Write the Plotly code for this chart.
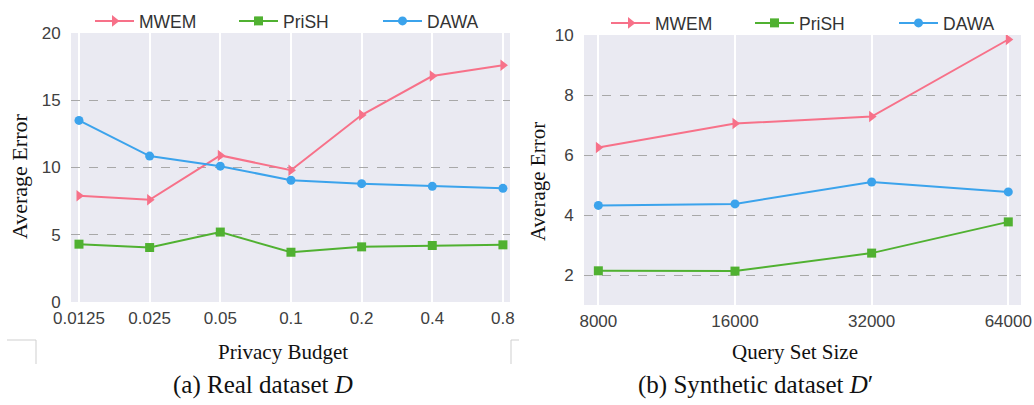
import plotly.graph_objects as go

# Panel (a): error vs privacy budget on the real dataset
budgets = ["0.0125", "0.025", "0.05", "0.1", "0.2", "0.4", "0.8"]
mwem_a = [7.9, 7.6, 10.9, 9.8, 13.9, 16.8, 17.6]
prish_a = [4.3, 4.05, 5.2, 3.7, 4.1, 4.2, 4.25]
dawa_a = [13.5, 10.85, 10.1, 9.05, 8.8, 8.6, 8.45]

# Panel (b): error vs query set size on the synthetic dataset
sizes = ["8000", "16000", "32000", "64000"]
mwem_b = [6.25, 7.05, 7.28, 9.85]
prish_b = [2.14, 2.13, 2.73, 3.77]
dawa_b = [4.32, 4.37, 5.1, 4.77]

W, H = 1034, 405
PINK, GREEN, BLUE = "#f77189", "#50b131", "#3ba3ec"
SANS = "Liberation Sans, Arial, sans-serif"
SERIF = "Liberation Serif, Times New Roman, serif"


def px(x):
    return x / W


def py(y):
    return 1 - y / H


series = [
    ("MWEM", PINK, "triangle-right", 10),
    ("PriSH", GREEN, "square", 9),
    ("DAWA", BLUE, "circle", 9),
]

fig = go.Figure()
for (name, color, sym, size), ya in zip(series, [mwem_a, prish_a, dawa_a]):
    fig.add_trace(go.Scatter(
        x=budgets, y=ya, name=name, mode="lines+markers",
        line=dict(color=color, width=2),
        marker=dict(symbol=sym, size=size, color=color),
        xaxis="x", yaxis="y", legend="legend",
    ))
for (name, color, sym, size), yb in zip(series, [mwem_b, prish_b, dawa_b]):
    fig.add_trace(go.Scatter(
        x=sizes, y=yb, name=name, mode="lines+markers",
        line=dict(color=color, width=2),
        marker=dict(symbol=sym, size=size, color=color),
        xaxis="x2", yaxis="y2", legend="legend2",
    ))

TICKFONT = dict(family=SANS, size=17, color="#404040")
xcommon = dict(
    type="category", showgrid=True, gridcolor="white", gridwidth=1.5,
    zeroline=False, showline=False, ticks="outside", ticklen=1,
    tickcolor="rgba(0,0,0,0)", tickfont=TICKFONT, automargin=False,
)
ycommon = dict(
    showgrid=True, gridcolor="#a8a8a8", gridwidth=1, griddash="dash",
    zeroline=False, showline=False, ticks="outside", ticklen=6,
    tickcolor="rgba(0,0,0,0)", tickfont=TICKFONT, automargin=False,
)

legend_common = dict(
    orientation="h", xanchor="center", yanchor="middle",
    font=dict(family=SANS, size=17.5, color="#333333"),
    bgcolor="rgba(0,0,0,0)", itemwidth=39,
    entrywidth=90, entrywidthmode="pixels",
)

fig.update_layout(
    width=W, height=H,
    margin=dict(l=0, r=0, t=0, b=0, autoexpand=False),
    paper_bgcolor="white",
    plot_bgcolor="#eaeaf2",
    xaxis=dict(xcommon, domain=[px(71), px(510)], range=[-0.113, 6.1], anchor="y"),
    yaxis=dict(ycommon, domain=[py(302), py(33)], range=[0, 20],
               tickvals=[0, 5, 10, 15, 20], anchor="x"),
    xaxis2=dict(xcommon, domain=[px(584), px(1021)], range=[-0.105, 3.093], anchor="y2"),
    yaxis2=dict(ycommon, domain=[py(305), py(35)], range=[1.0, 10],
                tickvals=[2, 4, 6, 8, 10], anchor="x2"),
    legend=dict(legend_common, x=px(306), y=py(21)),
    legend2=dict(legend_common, x=px(822), y=py(23)),
    showlegend=True,
)

annotations = [
    dict(text="Average Error", x=px(19), y=py(177), textangle=-90,
         font=dict(family=SERIF, size=22, color="#111111")),
    dict(text="Average Error", x=px(538), y=py(182), textangle=-90,
         font=dict(family=SERIF, size=21, color="#111111")),
    dict(text="Privacy Budget", x=px(283), y=py(352),
         font=dict(family=SERIF, size=21, color="#111111")),
    dict(text="Query Set Size", x=px(795), y=py(352),
         font=dict(family=SERIF, size=21, color="#111111")),
    dict(text="(a) Real dataset <i>D</i>", x=px(263), y=py(385),
         font=dict(family=SERIF, size=25, color="#111111")),
    dict(text="(b) Synthetic dataset <i>D</i>\u2032", x=px(755), y=py(385),
         font=dict(family=SERIF, size=25, color="#111111")),
]
for a in annotations:
    a.update(xref="paper", yref="paper", showarrow=False,
             xanchor="center", yanchor="middle")
fig.update_layout(annotations=annotations)

# thin frame marks around the lower part of panel (a)
frame = [
    (7, 340, 36, 340), (36, 340, 36, 364),
    (511, 340, 519, 340), (511, 340, 511, 364),
]
fig.update_layout(shapes=[
    dict(type="line", xref="paper", yref="paper",
         x0=px(x0), y0=py(y0), x1=px(x1), y1=py(y1),
         line=dict(color="#cfcfcf", width=1))
    for x0, y0, x1, y1 in frame
])

fig.write_html("out.html")
